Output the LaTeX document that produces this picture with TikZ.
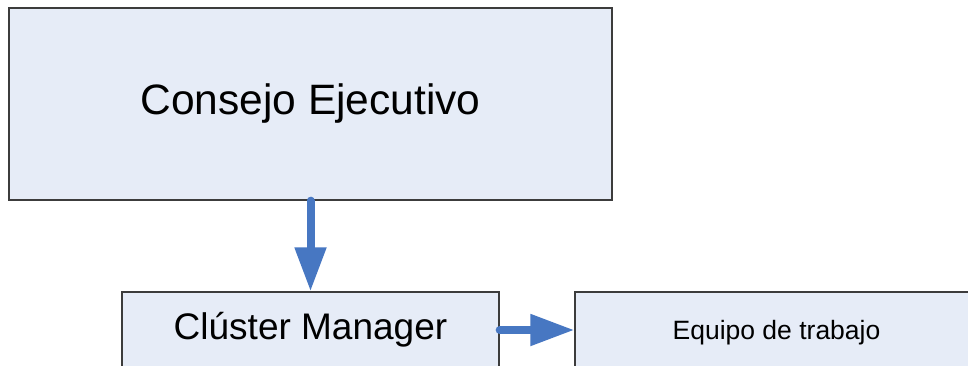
\documentclass[tikz,border=0pt]{standalone}
\usepackage{fontspec}
\setmainfont{Liberation Sans}
\usetikzlibrary{arrows.meta}
\definecolor{boxfill}{RGB}{230,236,247}
\definecolor{boxline}{RGB}{60,60,60}
\definecolor{flow}{RGB}{71,119,194}
\begin{document}
\begin{tikzpicture}[x=1pt,y=-1pt,
  orgbox/.style={draw=boxline, line width=1.3pt, fill=boxfill, inner sep=0pt, text=black},
  flowarrow/.style={draw=flow, line width=8pt, line cap=round,
    -{Triangle[length=44pt,width=30pt]}}]
\useasboundingbox (0,0) rectangle (968,365);
\fill[white] (0,0) rectangle (968,365);
% organisation boxes
\node[orgbox, minimum width=603pt, minimum height=192pt, font=\fontsize{42.5}{50}\selectfont]
  (council) at (310.5,104) {Consejo Ejecutivo};
\node[orgbox, minimum width=377pt, minimum height=76pt, font=\fontsize{37}{44}\selectfont]
  (cluster) at (310.5,330) {Clúster Manager};
\node[orgbox, minimum width=403pt, minimum height=82pt, font=\fontsize{26.5}{32}\selectfont]
  (team) at (776.5,333) {Equipo de trabajo};
% reporting arrows
\draw[flowarrow] (council.south) -- (cluster.north);
\draw[flowarrow] (cluster.east) -- (cluster.east -| team.west);
\end{tikzpicture}
\end{document}
